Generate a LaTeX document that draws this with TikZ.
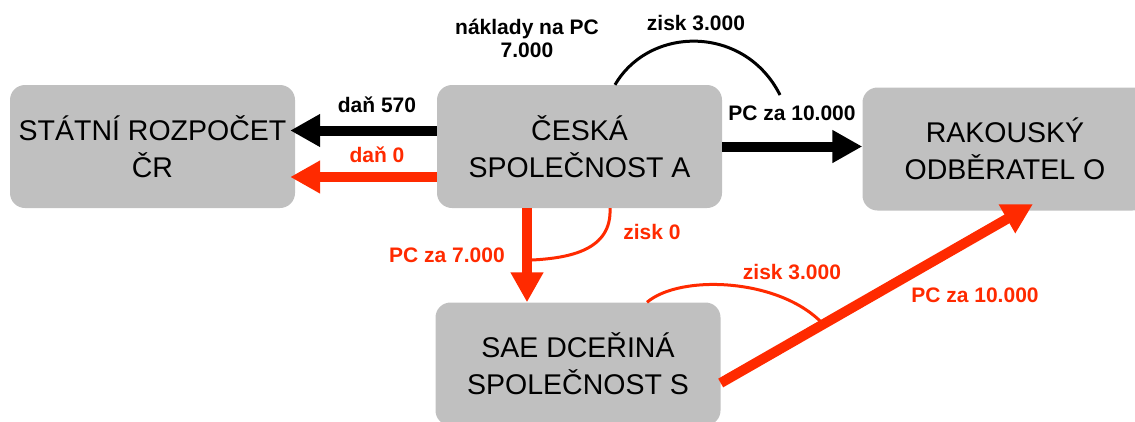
\documentclass[tikz,border=0pt]{standalone}
\usepackage{fontspec}
\setmainfont{Liberation Sans}
\usetikzlibrary{arrows.meta}
\definecolor{boxgray}{HTML}{C0C0C0}
\definecolor{flowred}{HTML}{FF2A00}
\tikzset{
  entity/.style={fill=boxgray, rounded corners=15pt, minimum width=285pt, minimum height=123pt,
    align=center, inner sep=0pt, font=\fontsize{28.5}{37}\selectfont},
  flowlabel/.style={font=\fontsize{21}{23}\selectfont\bfseries, align=center, inner sep=0pt},
  bigarrow/.style={line width=10pt, -{Triangle[length=30pt,width=31pt]}},
  thinarc/.style={line width=3pt},
}
\begin{document}
\begin{tikzpicture}[x=1pt,y=-1pt]
\useasboundingbox (0,0) rectangle (1135,421);
\begin{scope}
\clip (0,0) rectangle (1135,421);
\node[entity] (st) at (152.5,146.5) {STÁTNÍ ROZPOČET\\ČR};
\node[entity] (a) at (579.5,146.5) {ČESKÁ\\SPOLEČNOST A};
\node[entity] (o) at (1005,149) {RAKOUSKÝ\\ODBĚRATEL O};
\node[entity] (s) at (578,364) {SAE DCEŘINÁ\\SPOLEČNOST S};
\end{scope}

% black flows
\draw[bigarrow, black] ([yshift=16pt]a.west) -- ([yshift=16pt,xshift=-5pt]a.west -| st.east);
\draw[bigarrow, black] (a.east) -- (a.east -| o.west);
\coordinate (arcend) at (780,95);
\draw[thinarc, black] ([xshift=35.5pt]a.north) .. controls (650,25) and (745,25) .. (arcend);

% red flows
\draw[bigarrow, flowred] ([yshift=-30.5pt]a.west) -- ([yshift=-30.5pt,xshift=-5pt]a.west -| st.east);
\draw[bigarrow, flowred] ([xshift=-52.5pt]a.south) -- ([xshift=-52.5pt]a.south |- s.north);
\draw[bigarrow, flowred] ([yshift=-19pt]s.east) -- (1033,204) coordinate (otip);
\coordinate (z0end) at (532,260);
\draw[thinarc, flowred] ([xshift=30.5pt]a.south) .. controls (612,250) and (570,258) .. (z0end);
\coordinate (z3end) at (823,324);
\draw[thinarc, flowred] ([xshift=69pt]s.north) .. controls (680,274) and (780,278) .. (z3end);

% labels
\node[flowlabel] (lnaklady) at (527,38) {náklady na PC\\7.000};
\node[flowlabel] (lzisk3) at (696,23) {zisk 3.000};
\node[flowlabel] (lpc10) at (792,113) {PC za 10.000};
\node[flowlabel] (ldan570) at (377,105) {daň 570};
\node[flowlabel, text=flowred] (ldan0) at (377,155) {daň 0};
\node[flowlabel, text=flowred] (lpc7) at (447,255) {PC za 7.000};
\node[flowlabel, text=flowred] (lzisk0) at (652,232) {zisk 0};
\node[flowlabel, text=flowred] (lzisk3r) at (792,272) {zisk 3.000};
\node[flowlabel, text=flowred] (lpc10r) at (975,295) {PC za 10.000};
\end{tikzpicture}
\end{document}
